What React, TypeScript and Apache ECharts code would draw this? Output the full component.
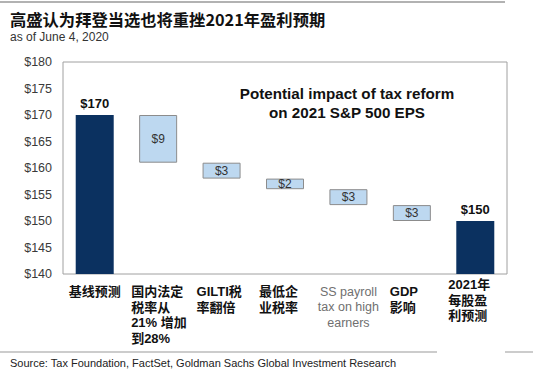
import React, { useEffect, useRef } from "react";
import * as echarts from "echarts";

const categories = [
  "基线预测",
  "国内法定\n税率从\n21% 增加\n到28%",
  "GILTI税\n率翻倍",
  "最低企\n业税率",
  "SS payroll\ntax on high\nearners",
  "GDP\n影响",
  "2021年\n每股盈\n利预测",
];
const baselineEPS = 170;
const impacts = [9, 3, 2, 3, 3];
const finalEPS = 150;
const yTicks = [140, 145, 150, 155, 160, 165, 170, 175, 180];

const labelWidths = [56, 54, 50, 52, 0, 44, 54];

export default function App() {
  const ref = useRef<HTMLDivElement>(null);
  useEffect(() => {
    if (!ref.current) return;
    const chart = echarts.init(ref.current, null, { renderer: "svg" });

    // waterfall: invisible base + visible part
    const base: number[] = [0];
    const visible: any[] = [];
    visible.push({ value: baselineEPS, itemStyle: { color: "#0b3160", borderWidth: 0 }, label: { show: true, position: "top", formatter: "$" + baselineEPS, fontWeight: "bold", color: "#111", fontSize: 13, fontFamily: "Liberation Sans" } });
    let running = baselineEPS;
    impacts.forEach((d) => {
      running -= d;
      base.push(running);
      visible.push({ value: d, label: { show: true, position: "inside", formatter: "$" + d, color: "#333", fontSize: 12, fontFamily: "Liberation Sans" } });
    });
    base.push(0);
    visible.push({ value: finalEPS, itemStyle: { color: "#0b3160", borderWidth: 0 }, label: { show: true, position: "top", formatter: "$" + finalEPS, fontWeight: "bold", color: "#111", fontSize: 13, fontFamily: "Liberation Sans" } });

    const rich: any = {
      sp: { fontSize: 1, lineHeight: 7 },
      g: { fontSize: 12.5, color: "#707070", fontFamily: "Liberation Sans", lineHeight: 15.5, align: "center" },
    };
    labelWidths.forEach((w, i) => {
      rich["b" + i] = {
        fontSize: 13,
        fontWeight: "bold",
        color: "#111",
        fontFamily: "Liberation Sans, Noto Sans CJK SC",
        lineHeight: 15.5,
        width: w || undefined,
        align: i === 0 ? "center" : "left",
      };
    });

    chart.setOption({
      animation: false,
      grid: { left: 63, right: 43, top: 62, bottom: 97, show: true, borderColor: "#a0a0a0", borderWidth: 1, backgroundColor: "transparent" },
      xAxis: {
        type: "category",
        data: categories,
        axisLine: { show: false },
        axisTick: { show: false },
        axisLabel: {
          interval: 0,
          margin: 3,
          rich,
          formatter: (value: string, idx: number) => {
            const lines = value.split("\n");
            const key = idx === 4 ? "g" : "b" + idx;
            const body = lines.map((l) => `{${key}|${l}}`).join("\n");
            return idx === 6 ? body : `{sp| }\n` + body;
          },
        },
      },
      yAxis: {
        type: "value",
        min: yTicks[0],
        max: yTicks[yTicks.length - 1],
        interval: 5,
        axisLine: { show: false },
        axisTick: { show: false },
        splitLine: { show: false },
        axisLabel: { formatter: (v: number) => "$" + v, color: "#3a3a3a", fontSize: 12.5, fontFamily: "Liberation Sans", margin: 11 },
      },
      series: [
        {
          type: "bar",
          stack: "w",
          data: base,
          itemStyle: { color: "transparent" },
          barWidth: 38,
          silent: true,
        },
        {
          type: "bar",
          stack: "w",
          data: visible,
          barWidth: 38,
          itemStyle: { color: "#bdd8f0", borderColor: "#8c8c8c", borderWidth: 1 },
        },
      ],
      graphic: [
        { type: "line", shape: { x1: 0, y1: 2, x2: 505, y2: 2 }, style: { stroke: "#999", lineWidth: 1.5 } },
        { type: "text", left: 10, top: 11, style: { text: "高盛认为拜登当选也将重挫2021年盈利预期", fontSize: 16.3, fontWeight: "bold", fill: "#111", fontFamily: "Noto Sans CJK SC" } },
        { type: "text", left: 10, top: 31, style: { text: "as of June 4, 2020", fontSize: 12, fill: "#333", fontFamily: "Liberation Sans" } },
        { type: "text", x: 347, y: 93, style: { text: "Potential impact of tax reform", fontSize: 15.2, fontWeight: "bold", fill: "#111", fontFamily: "Liberation Sans", align: "center", verticalAlign: "middle" } },
        { type: "text", x: 347, y: 112, style: { text: "on 2021 S&P 500 EPS", fontSize: 15.2, fontWeight: "bold", fill: "#111", fontFamily: "Liberation Sans", align: "center", verticalAlign: "middle" } },
        { type: "line", shape: { x1: 0, y1: 352, x2: 437, y2: 352 }, style: { stroke: "#999", lineWidth: 1 } },
        { type: "line", shape: { x1: 505, y1: 352, x2: 533, y2: 352 }, style: { stroke: "#999", lineWidth: 1 } },
        { type: "text", left: 10, top: 357, style: { text: "Source: Tax Foundation, FactSet, Goldman Sachs Global Investment Research", fontSize: 11, fill: "#222", fontFamily: "Liberation Sans" } },
      ],
    });
    return () => chart.dispose();
  }, []);
  return <div ref={ref} style={{ position: "fixed", left: 0, top: 0, width: 550, height: 371, background: "#fff" }} />;
}
